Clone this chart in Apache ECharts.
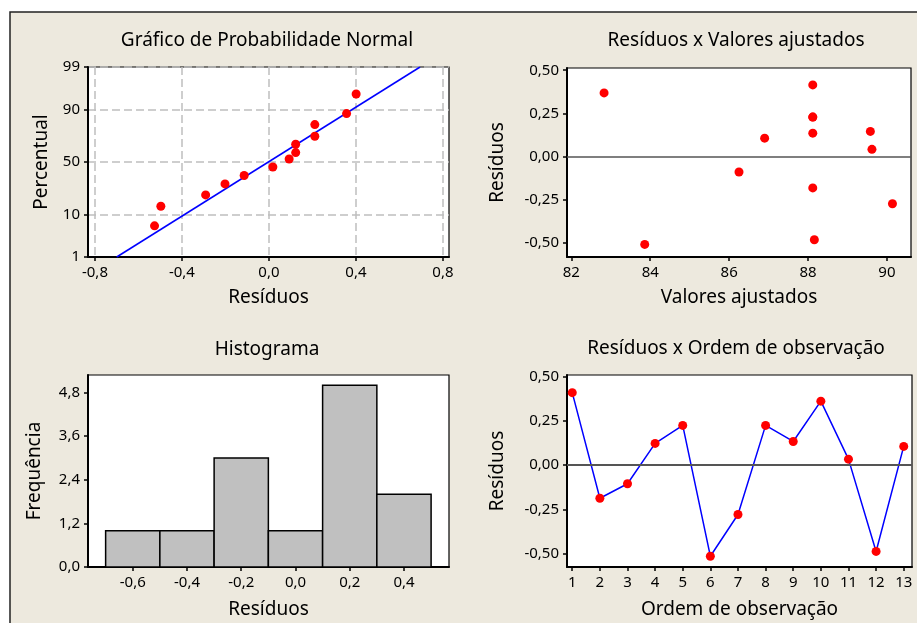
<!DOCTYPE html>
<html><head><meta charset="utf-8">
<script src="https://cdn.jsdelivr.net/npm/echarts@6/dist/echarts.min.js"></script>
<style>html,body{margin:0;padding:0;background:#fff}#c{width:917px;height:623px}</style>
</head><body><div id="c"></div>
<script>
// ---------- Gráfico de Probabilidade Normal ----------
const probResiduals = [-0.526, -0.497, -0.291, -0.202, -0.114, 0.018, 0.093, 0.123, 0.123, 0.211, 0.211, 0.357, 0.401];
const probPercent   = [5.9, 13.9, 21.0, 29.6, 37.0, 45.1, 52.9, 59.1, 66.8, 73.6, 82.0, 88.2, 95.2];
const fitLineResiduals = [-0.700, 0.695];
const fitLinePercent   = [1, 99];
const probYTicks  = [1, 10, 50, 90, 99];
const probXLabels = [-0.8, -0.4, 0, 0.4, 0.8];
const probXGrid   = [-0.8, -0.6, -0.4, -0.2, 0, 0.2, 0.4, 0.6, 0.8];

// ---------- Resíduos x Valores ajustados ----------
const fittedValues    = [82.83, 83.86, 86.25, 86.90, 88.12, 88.12, 88.12, 88.12, 88.12, 88.16, 89.58, 89.62, 90.14];
const fittedResiduals = [0.369, -0.508, -0.089, 0.107, 0.415, 0.229, 0.229, 0.136, -0.181, -0.481, 0.146, 0.042, -0.273];
const fittedXTicks = [82, 84, 86, 88, 90];
const residTicks   = [-0.5, -0.25, 0, 0.25, 0.5];

// ---------- Histograma ----------
const binStart = [-0.7, -0.5, -0.3, -0.1, 0.1, 0.3];
const binEnd   = [-0.5, -0.3, -0.1, 0.1, 0.3, 0.5];
const binCount = [1, 1, 3, 1, 5, 2];
const histXTicks = [-0.6, -0.4, -0.2, 0, 0.2, 0.4];
const histYTicks = [0, 1.2, 2.4, 3.6, 4.8];

// ---------- Resíduos x Ordem de observação ----------
const orderIndex     = [1, 2, 3, 4, 5, 6, 7, 8, 9, 10, 11, 12, 13];
const orderResiduals = [0.41, -0.187, -0.105, 0.123, 0.225, -0.515, -0.279, 0.225, 0.134, 0.362, 0.034, -0.488, 0.106];

// inverse normal CDF (probability-scale axis transform)
function normInv(p) {
  const a = [-3.969683028665376e+01, 2.209460984245205e+02, -2.759285104469687e+02, 1.383577518672690e+02, -3.066479806614716e+01, 2.506628277459239e+00];
  const b = [-5.447609879822406e+01, 1.615858368580409e+02, -1.556989798598866e+02, 6.680131188771972e+01, -1.328068155288572e+01];
  const c = [-7.784894002430293e-03, -3.223964580411365e-01, -2.400758277161838e+00, -2.549732539343734e+00, 4.374664141464968e+00, 2.938163982698783e+00];
  const d = [7.784695709041462e-03, 3.224671290700398e-01, 2.445134137142996e+00, 3.754408661907416e+00];
  const pl = 0.02425, ph = 1 - pl;
  let q, r;
  if (p < pl) { q = Math.sqrt(-2 * Math.log(p)); return (((((c[0]*q+c[1])*q+c[2])*q+c[3])*q+c[4])*q+c[5]) / ((((d[0]*q+d[1])*q+d[2])*q+d[3])*q+1); }
  if (p <= ph) { q = p - 0.5; r = q*q; return (((((a[0]*r+a[1])*r+a[2])*r+a[3])*r+a[4])*r+a[5])*q / (((((b[0]*r+b[1])*r+b[2])*r+b[3])*r+b[4])*r+1); }
  q = Math.sqrt(-2 * Math.log(1 - p)); return -(((((c[0]*q+c[1])*q+c[2])*q+c[3])*q+c[4])*q+c[5]) / ((((d[0]*q+d[1])*q+d[2])*q+d[3])*q+1);
}
const z = pct => normInv(pct / 100);
const fmt = (v, dec) => (Math.abs(v) < 1e-9 ? 0 : v).toFixed(dec).replace('.', ',');

const FONT = 'Noto Sans';
const BG = '#EDE9DE';
const labelStyle = { color: '#000', fontFamily: FONT, fontSize: 15, margin: 8 };
const nameStyle = { color: '#000', fontFamily: FONT, fontSize: 19 };
const axLine = { show: true, onZero: false, lineStyle: { color: '#000', width: 2 } };
const tick = vals => ({ show: true, inside: false, length: 4, lineStyle: { color: '#000', width: 1.5 }, customValues: vals });
const dashGrid = { show: true, lineStyle: { color: '#BEBEBE', width: 1.5, type: [8, 4] } };

const grids = [
  { left: 88, top: 67, width: 361, height: 190 },
  { left: 567, top: 68, width: 344, height: 189 },
  { left: 88, top: 375, width: 361, height: 192 },
  { left: 567, top: 375, width: 345, height: 192 }
].map(g => Object.assign(g, { show: true, backgroundColor: '#fff', borderColor: '#000', borderWidth: 1.2, containLabel: false }));

const probYTickZ = probYTicks.map(z);
const probYLabel = v => { let bi = 0; probYTickZ.forEach((t, i) => { if (Math.abs(t - v) < Math.abs(probYTickZ[bi] - v)) bi = i; }); return String(probYTicks[bi]); };

const option = {
  animation: false,
  backgroundColor: '#fff',
  graphic: { elements: [{ type: 'rect', z: -100, silent: true, shape: { x: 10, y: 12, width: 1000, height: 700 }, style: { fill: BG, stroke: '#222', lineWidth: 1.5 } }] },
  title: [
    { text: 'Gráfico de Probabilidade Normal', left: 267, top: 31 },
    { text: 'Resíduos x Valores ajustados', left: 736, top: 31 },
    { text: 'Histograma', left: 267, top: 340 },
    { text: 'Resíduos x Ordem de observação', left: 736, top: 339 }
  ].map(t => Object.assign(t, { textAlign: 'center', padding: 0, textStyle: { fontFamily: FONT, fontSize: 19, fontWeight: 'normal', color: '#000' } })),
  grid: grids,
  xAxis: [
    { gridIndex: 0, type: 'value', min: -0.832, max: 0.828, name: 'Resíduos', nameLocation: 'middle', nameGap: 31, nameTextStyle: nameStyle,
      axisLine: axLine, axisTick: tick(probXLabels), splitLine: dashGrid,
      axisLabel: Object.assign({ customValues: probXLabels, formatter: v => fmt(v, 1) }, labelStyle) },
    { gridIndex: 1, type: 'value', min: 81.89, max: 90.61, name: 'Valores ajustados', nameLocation: 'middle', nameGap: 31, nameTextStyle: nameStyle,
      axisLine: axLine, axisTick: tick(fittedXTicks), splitLine: { show: false },
      axisLabel: Object.assign({ customValues: fittedXTicks, formatter: v => String(v) }, labelStyle) },
    { gridIndex: 2, type: 'value', min: -0.765, max: 0.566, name: 'Resíduos', nameLocation: 'middle', nameGap: 33, nameTextStyle: nameStyle,
      axisLine: axLine, axisTick: tick(histXTicks), splitLine: { show: false },
      axisLabel: Object.assign({ customValues: histXTicks, formatter: v => fmt(v, 1) }, labelStyle) },
    { gridIndex: 3, type: 'value', min: 0.81, max: 13.3, name: 'Ordem de observação', nameLocation: 'middle', nameGap: 33, nameTextStyle: nameStyle,
      axisLine: axLine, axisTick: tick(orderIndex), splitLine: { show: false },
      axisLabel: Object.assign({ customValues: orderIndex, formatter: v => String(v) }, labelStyle) }
  ],
  yAxis: [
    { gridIndex: 0, type: 'value', min: z(1), max: z(99), name: 'Percentual', nameLocation: 'middle', nameGap: 37, nameTextStyle: nameStyle,
      axisLine: axLine, axisTick: tick(probYTickZ), splitLine: dashGrid,
      axisLabel: Object.assign({ customValues: probYTickZ, formatter: probYLabel }, labelStyle) },
    { gridIndex: 1, type: 'value', min: -0.581, max: 0.513, name: 'Resíduos', nameLocation: 'middle', nameGap: 60, nameTextStyle: nameStyle,
      axisLine: axLine, axisTick: tick(residTicks), splitLine: { show: false },
      axisLabel: Object.assign({ customValues: residTicks, formatter: v => fmt(v, 2) }, labelStyle) },
    { gridIndex: 2, type: 'value', min: 0, max: 5.28, name: 'Frequência', nameLocation: 'middle', nameGap: 44, nameTextStyle: nameStyle,
      axisLine: axLine, axisTick: tick(histYTicks), splitLine: { show: false },
      axisLabel: Object.assign({ customValues: histYTicks, formatter: v => fmt(v, 1) }, labelStyle) },
    { gridIndex: 3, type: 'value', min: -0.576, max: 0.51, name: 'Resíduos', nameLocation: 'middle', nameGap: 60, nameTextStyle: nameStyle,
      axisLine: axLine, axisTick: tick(residTicks), splitLine: { show: false },
      axisLabel: Object.assign({ customValues: residTicks, formatter: v => fmt(v, 2) }, labelStyle) }
  ],
  series: [
    { type: 'line', xAxisIndex: 0, yAxisIndex: 0, data: fitLineResiduals.map((x, i) => [x, z(fitLinePercent[i])]),
      showSymbol: false, lineStyle: { color: '#0000FF', width: 1.5 }, z: 3 },
    { type: 'scatter', xAxisIndex: 0, yAxisIndex: 0, data: probResiduals.map((x, i) => [x, z(probPercent[i])]),
      symbolSize: 9, itemStyle: { color: '#FF0000', opacity: 1 }, z: 4 },
    { type: 'scatter', xAxisIndex: 1, yAxisIndex: 1, data: fittedValues.map((x, i) => [x, fittedResiduals[i]]),
      symbolSize: 9, itemStyle: { color: '#FF0000', opacity: 1 }, z: 4,
      markLine: { silent: true, symbol: 'none', label: { show: false }, lineStyle: { color: '#555', width: 1.5, type: 'solid' }, data: [{ yAxis: 0 }] } },
    { type: 'custom', xAxisIndex: 2, yAxisIndex: 2, data: binStart.map((s, i) => [s, binEnd[i], binCount[i]]),
      encode: { x: [0, 1], y: 2 },
      renderItem: (params, api) => {
        const a = api.coord([api.value(0), api.value(2)]);
        const b = api.coord([api.value(1), 0]);
        return { type: 'rect', shape: { x: a[0], y: a[1], width: b[0] - a[0], height: b[1] - a[1] },
                 style: { fill: '#C0C0C0', stroke: '#000', lineWidth: 1.5 } };
      } },
    { type: 'line', xAxisIndex: 3, yAxisIndex: 3, data: orderIndex.map((x, i) => [x, orderResiduals[i]]),
      symbol: 'circle', symbolSize: 9, itemStyle: { color: '#FF0000', opacity: 1 }, lineStyle: { color: '#0000FF', width: 1.5 }, z: 4,
      markLine: { silent: true, symbol: 'none', label: { show: false }, lineStyle: { color: '#555', width: 2, type: 'solid' }, data: [{ yAxis: 0 }] } }
  ]
};
echarts.init(document.getElementById('c'), null, { renderer: 'canvas' }).setOption(option);
</script></body></html>
